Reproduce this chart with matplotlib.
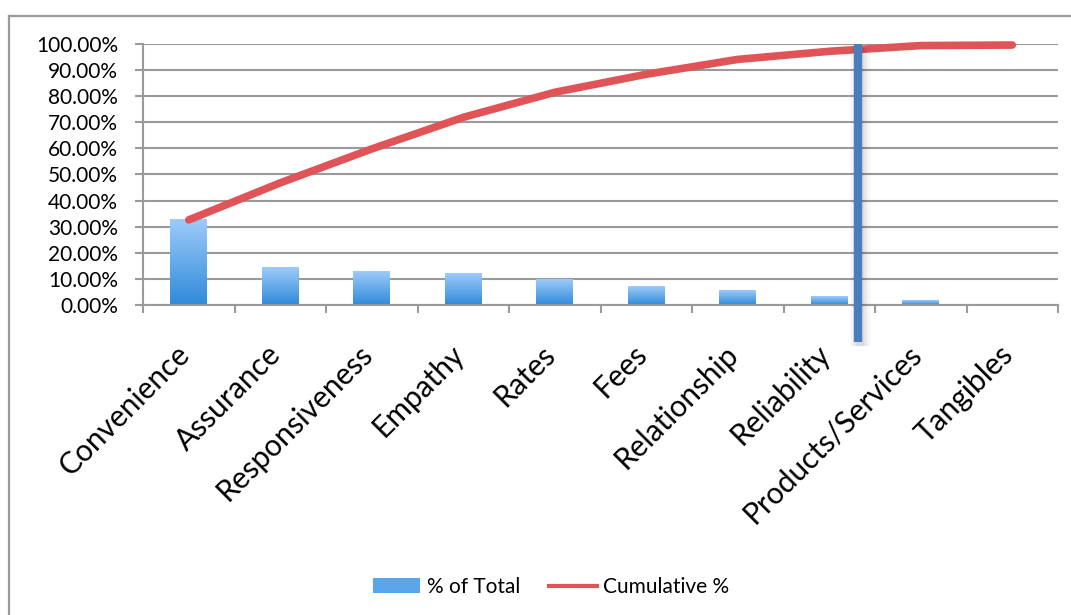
import numpy as np
import matplotlib.pyplot as plt
import matplotlib.transforms as mtransforms
from matplotlib.lines import Line2D
from matplotlib.patches import Rectangle
from matplotlib.colors import LinearSegmentedColormap
from matplotlib.ticker import FuncFormatter, FixedLocator

plt.rcParams['font.family'] = ['Lato', 'DejaVu Sans']

# data
categories = ['Convenience', 'Assurance', 'Responsiveness', 'Empathy', 'Rates',
              'Fees', 'Relationship', 'Reliability', 'Products/Services', 'Tangibles']
pct_of_total = [32.6, 14.2, 13.0, 12.1, 9.6, 6.9, 5.7, 3.1, 1.8, 0.0]
cumulative = [32.6, 46.8, 59.8, 71.9, 81.5, 88.4, 94.1, 97.2, 99.4, 99.6]
cutoff_x = 7.31      # position of the hand-drawn blue cut line (category units)
cutoff_bottom = -14.2

W, H = 1071, 615
fig = plt.figure(figsize=(W / 100, H / 100), dpi=100)
ax = fig.add_axes([143 / W, 1 - 305 / H, (1058 - 143) / W, (305 - 44) / H])

grid_col = '#9a9a9a'
red = '#e05458'
blue_line = '#4a7dbb'

x = np.arange(len(categories))
bar_w = 0.4

# gradient bars
cmap = LinearSegmentedColormap.from_list('bluegrad', ['#2f8ad9', '#9ecbfa'])
grad = np.linspace(0, 1, 256).reshape(-1, 1)
bars = ax.bar(x, pct_of_total, bar_w, color='none', edgecolor='none', zorder=2)
for b in bars:
    h = b.get_height()
    if h <= 0:
        continue
    x0 = b.get_x()
    ax.imshow(grad, extent=[x0, x0 + bar_w, 0, h], origin='lower',
              aspect='auto', cmap=cmap, zorder=2)

# cumulative line
ax.plot(x, cumulative, color=red, linewidth=5.5, solid_capstyle='round',
        solid_joinstyle='round', zorder=4, clip_on=False)

# cut line with a soft shadow
for k, a in enumerate([0.06, 0.05, 0.04]):
    ax.plot([cutoff_x + 0.03, cutoff_x + 0.03], [100 - 1.5, cutoff_bottom - 1.5],
            color='black', alpha=a, linewidth=6 + 4 * k, zorder=4.5,
            clip_on=False, solid_capstyle='butt')
ax.plot([cutoff_x, cutoff_x], [100, cutoff_bottom], color=blue_line,
        linewidth=6, zorder=5, clip_on=False, solid_capstyle='butt')

ax.set_xlim(-0.5, len(categories) - 0.5)
ax.set_ylim(0, 100)

ax.set_yticks(np.arange(0, 101, 10))
ax.yaxis.set_major_formatter(FuncFormatter(lambda v, p: f'{v:.2f}%'))
ax.yaxis.grid(True, color=grid_col, linewidth=1.5, zorder=0)
ax.set_axisbelow(True)

# ticks at category boundaries, labels at the centres
ax.xaxis.set_major_locator(FixedLocator(np.arange(-0.5, len(categories), 1.0)))
ax.xaxis.set_major_formatter(FuncFormatter(lambda v, p: ''))
ax.set_xticks(x, minor=True)
ax.set_xticklabels(categories, minor=True, rotation=45, ha='right',
                   fontsize=21.5)
ax.tick_params(axis='x', which='minor', length=0, pad=25)
ax.tick_params(axis='x', which='major', length=6, width=1.5, color=grid_col,
               direction='out')
ax.tick_params(axis='y', length=6, width=1.5, color=grid_col, labelsize=15,
               pad=12)
shift = mtransforms.ScaledTranslation(6 / 100, 0, fig.dpi_scale_trans)
for lab in ax.get_xticklabels(minor=True):
    lab.set_transform(lab.get_transform() + shift)

for s in ['top', 'right']:
    ax.spines[s].set_visible(False)
for s in ['left', 'bottom']:
    ax.spines[s].set_color(grid_col)
    ax.spines[s].set_linewidth(1.5)

# legend
handles = [Rectangle((0, 0), 1, 1, facecolor='#5aa6ea', edgecolor='none'),
           Line2D([0], [0], color=red, linewidth=3)]
fig.legend(handles, ['% of Total', 'Cumulative %'], loc='center',
           bbox_to_anchor=(551 / W, 1 - 587 / H), ncol=2, frameon=False,
           fontsize=15, handlelength=2.3, handletextpad=0.3, columnspacing=1.4)

# outer chart frame (only top and left edges show)
fig.add_artist(Line2D([9 / W, 1], [1 - 16 / H, 1 - 16 / H], color=grid_col,
                      linewidth=1.6, transform=fig.transFigure))
fig.add_artist(Line2D([9 / W, 9 / W], [1 - 16 / H, 0], color=grid_col,
                      linewidth=1.6, transform=fig.transFigure))

fig.savefig('out.png', dpi=100)
